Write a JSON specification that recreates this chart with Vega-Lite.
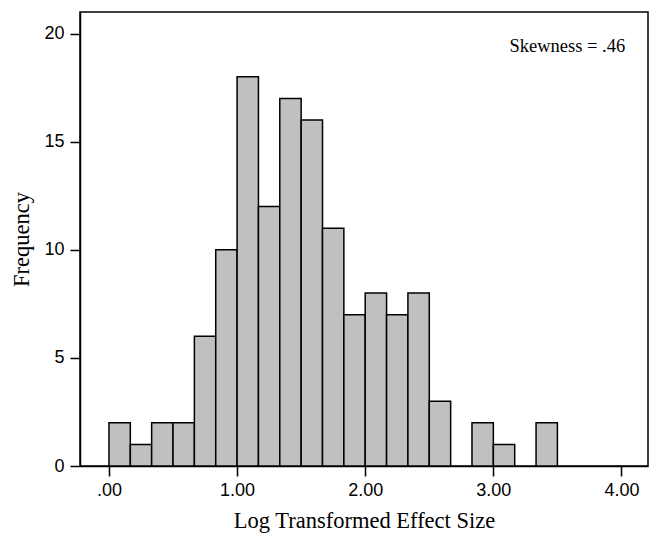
{
  "$schema": "https://vega.github.io/schema/vega-lite/v6.json",
  "width": 568,
  "height": 454,
  "autosize": "none",
  "padding": {"left": 80, "top": 12, "right": 6, "bottom": 68},
  "background": "white",
  "config": {
    "view": {"stroke": "#000", "strokeWidth": 1.5},
    "axis": {
      "domainColor": "#000",
      "domainWidth": 1.5,
      "tickColor": "#000",
      "tickWidth": 1.5,
      "tickSize": 10,
      "grid": false,
      "labelFont": "Liberation Sans",
      "labelFontSize": 18,
      "labelColor": "#000",
      "titleFont": "Liberation Serif",
      "titleFontSize": 22.5,
      "titleFontWeight": "normal",
      "titleColor": "#000"
    }
  },
  "data": {
    "values": [
      {"bin_start": 0.0, "bin_end": 0.1667, "count": 2},
      {"bin_start": 0.1667, "bin_end": 0.3333, "count": 1},
      {"bin_start": 0.3333, "bin_end": 0.5, "count": 2},
      {"bin_start": 0.5, "bin_end": 0.6667, "count": 2},
      {"bin_start": 0.6667, "bin_end": 0.8333, "count": 6},
      {"bin_start": 0.8333, "bin_end": 1.0, "count": 10},
      {"bin_start": 1.0, "bin_end": 1.1667, "count": 18},
      {"bin_start": 1.1667, "bin_end": 1.3333, "count": 12},
      {"bin_start": 1.3333, "bin_end": 1.5, "count": 17},
      {"bin_start": 1.5, "bin_end": 1.6667, "count": 16},
      {"bin_start": 1.6667, "bin_end": 1.8333, "count": 11},
      {"bin_start": 1.8333, "bin_end": 2.0, "count": 7},
      {"bin_start": 2.0, "bin_end": 2.1667, "count": 8},
      {"bin_start": 2.1667, "bin_end": 2.3333, "count": 7},
      {"bin_start": 2.3333, "bin_end": 2.5, "count": 8},
      {"bin_start": 2.5, "bin_end": 2.6667, "count": 3},
      {"bin_start": 2.8333, "bin_end": 3.0, "count": 2},
      {"bin_start": 3.0, "bin_end": 3.1667, "count": 1},
      {"bin_start": 3.3333, "bin_end": 3.5, "count": 2}
    ]
  },
  "layer": [
    {
      "mark": {"type": "bar", "fill": "#c0c0c0", "stroke": "#000", "strokeWidth": 1.5},
      "encoding": {
        "x": {
          "field": "bin_start",
          "type": "quantitative",
          "scale": {"domain": [-0.226, 4.207], "nice": false, "zero": false},
          "axis": {
            "values": [0, 1, 2, 3, 4],
            "labelExpr": "datum.value == 0 ? '.00' : format(datum.value, '.2f')",
            "labelPadding": 5,
            "titlePadding": 10,
            "title": "Log Transformed Effect Size"
          }
        },
        "x2": {"field": "bin_end"},
        "y": {
          "field": "count",
          "type": "quantitative",
          "scale": {"domain": [0, 21], "nice": false},
          "axis": {
            "values": [0, 5, 10, 15, 20],
            "labelPadding": 6,
            "titlePadding": 10,
            "title": "Frequency"
          }
        },
        "y2": {"datum": 0}
      }
    },
    {
      "data": {"values": [{"label": "Skewness = .46", "xpos": 3.577, "ypos": 19.14}]},
      "mark": {"type": "text", "font": "Liberation Serif", "fontSize": 18.5, "align": "center", "baseline": "alphabetic", "color": "#000"},
      "encoding": {
        "x": {"field": "xpos", "type": "quantitative"},
        "y": {"field": "ypos", "type": "quantitative"},
        "text": {"field": "label"}
      }
    }
  ]
}
